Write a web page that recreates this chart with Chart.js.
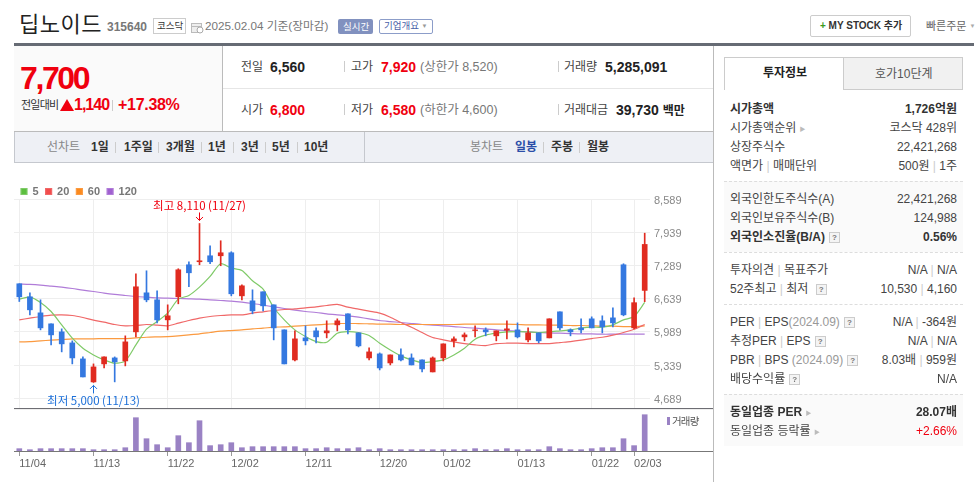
<!DOCTYPE html>
<html lang="ko">
<head>
<meta charset="utf-8">
<title>딥노이드 315640</title>
<script src="https://cdn.jsdelivr.net/npm/chart.js@4"></script>
<style>
    html, body { margin: 0; padding: 0; background: #fff; overflow: hidden; }
    body { width: 980px; height: 482px; position: relative; font-family: "Liberation Sans", "Noto Sans CJK KR", sans-serif; font-size: 12px; color: #444; }
    .t { position: absolute; white-space: nowrap; transform: translateY(-50%); line-height: 1; }
    .r { transform: translate(-100%, -50%); }
    .box { position: absolute; box-sizing: border-box; }
    .b { font-weight: bold; }
    .red { color: #f0000f; }
    .sep { position: absolute; width: 1px; height: 11px; background: #ccc; }
    .q { display: inline-block; width: 9px; height: 9px; line-height: 9px; border: 1px solid #ccc; background: #f4f4f4; color: #777; font-size: 8px; text-align: center; margin-left: 4px; font-weight: bold; vertical-align: 1px; }
    .dash { position: absolute; left: 724px; width: 239px; border-top: 1px dashed #ddd; }
    #priceWrap { position: absolute; left: 0; top: 179px; width: 714px; height: 229px; }
    #volumeWrap { position: absolute; left: 0; top: 408px; width: 714px; height: 70px; }
</style>
</head>
<body>

<!-- header -->
<div class="t" style="left:19px;top:25px;font-size:22px;letter-spacing:0.5px;color:#222">딥노이드</div>
<div class="t b" style="left:107px;top:27px;color:#777">315640</div>
<div class="box" style="left:153px;top:18px;width:33px;height:16px;border:1px solid #ccc"></div>
<div class="t" style="left:157px;top:26px;font-size:9.5px;color:#333">코스닥</div>
<svg class="box" style="left:191px;top:22px" width="13" height="12"><rect x="0.5" y="1.5" width="10" height="9" fill="#eee" stroke="#bbb"/><path d="M1 4.5h9" stroke="#bbb"/><circle cx="9" cy="8" r="3" fill="#fff" stroke="#aaa"/></svg>
<div class="t" style="left:205px;top:26px;font-size:11.7px;color:#777">2025.02.04 기준(장마감)</div>
<div class="box" style="left:338px;top:19px;width:35px;height:15px;background:#8191bf;border-radius:2px"></div>
<div class="t" style="left:343px;top:26.5px;font-size:9.5px;color:#fff">실시간</div>
<div class="box" style="left:379px;top:19px;width:54px;height:15px;border:1px solid #8c9dc9;border-radius:2px"></div>
<div class="t" style="left:384px;top:26px;font-size:9.5px;color:#4a5fa8">기업개요 <span style="font-size:6px;color:#999;vertical-align:1px">▼</span></div>
<div class="box" style="left:810px;top:15px;width:101px;height:22px;border:1px solid #ccc;border-radius:2px"></div>
<div class="t b" style="left:820px;top:26px;font-size:10px;color:#333"><span style="color:#3c9a1c">+</span> MY STOCK 추가</div>
<div class="t" style="left:926px;top:26px;font-size:11px;color:#666">빠른주문 <span style="font-size:6px;color:#aaa;vertical-align:2px">▼</span></div>
<div class="box" style="left:14px;top:43px;width:960px;height:3px;background:#666b74"></div>

<!-- quote summary -->
<div class="box" style="left:14px;top:46px;width:209px;height:85px;background:#fafafa;border-right:1px solid #bbb"></div>
<div class="box" style="left:14px;top:131px;width:699px;height:1px;background:#bbb"></div>
<div class="box" style="left:223px;top:88px;width:490px;height:1px;background:#e6e6e6"></div>
<div class="t b red" style="left:20px;top:78px;font-size:32px;letter-spacing:-2.4px">7,700</div>
<div class="t" style="left:21px;top:105px;font-size:11px;color:#333;letter-spacing:-0.8px">전일대비</div>
<svg class="box" style="left:60px;top:99px" width="14" height="13"><polygon points="7,0 14,12 0,12" fill="#f0000f"/></svg>
<div class="t b red" style="left:74px;top:105px;font-size:16px;letter-spacing:-1px">1,140</div>
<div class="sep" style="left:112px;top:100px"></div>
<div class="t b red" style="left:118px;top:105px;font-size:16px;letter-spacing:-0.3px">+17.38%</div>

<div class="t" style="left:241px;top:67px;font-size:12px;color:#444">전일</div>
<div class="t b" style="left:270px;top:67px;font-size:14px;color:#222">6,560</div>
<div class="sep" style="left:344px;top:61px"></div>
<div class="t" style="left:351px;top:67px;font-size:12px;color:#444">고가</div>
<div class="t b red" style="left:381px;top:67px;font-size:14px">7,920</div>
<div class="t" style="left:420px;top:67px;font-size:12.5px;color:#777">(상한가 8,520)</div>
<div class="sep" style="left:558px;top:61px"></div>
<div class="t" style="left:564px;top:67px;font-size:12px;color:#444">거래량</div>
<div class="t b" style="left:605px;top:67px;font-size:14px;color:#222">5,285,091</div>

<div class="t" style="left:241px;top:110px;font-size:12px;color:#444">시가</div>
<div class="t b red" style="left:270px;top:110px;font-size:14px">6,800</div>
<div class="sep" style="left:344px;top:104px"></div>
<div class="t" style="left:351px;top:110px;font-size:12px;color:#444">저가</div>
<div class="t b red" style="left:381px;top:110px;font-size:14px">6,580</div>
<div class="t" style="left:420px;top:110px;font-size:12.5px;color:#777">(하한가 4,600)</div>
<div class="sep" style="left:558px;top:104px"></div>
<div class="t" style="left:564px;top:110px;font-size:12px;color:#444">거래대금</div>
<div class="t b" style="left:616px;top:110px;font-size:14px;color:#222">39,730 <span style="font-size:12px">백만</span></div>

<!-- period bar -->
<div class="box" style="left:14px;top:132px;width:699px;height:31px;background:#eef0f5;border-left:1px solid #c5c8ce;border-bottom:1px solid #c5c8ce"></div>
<div class="box" style="left:364px;top:132px;width:1px;height:30px;background:#c5c8ce"></div>
<div class="t" style="left:47px;top:147px;color:#888">선차트</div>
<div class="t b" style="left:91px;top:147px;color:#333">1일</div><div class="sep" style="left:115px;top:142px"></div>
<div class="t b" style="left:124px;top:147px;color:#333">1주일</div><div class="sep" style="left:158px;top:142px"></div>
<div class="t b" style="left:166px;top:147px;color:#333">3개월</div><div class="sep" style="left:201px;top:142px"></div>
<div class="t b" style="left:208px;top:147px;color:#333">1년</div><div class="sep" style="left:233px;top:142px"></div>
<div class="t b" style="left:241px;top:147px;color:#333">3년</div><div class="sep" style="left:265px;top:142px"></div>
<div class="t b" style="left:272px;top:147px;color:#333">5년</div><div class="sep" style="left:297px;top:142px"></div>
<div class="t b" style="left:304px;top:147px;color:#333">10년</div>
<div class="t" style="left:470px;top:147px;color:#888">봉차트</div>
<div class="t b" style="left:515px;top:147px;color:#2b4ea8">일봉</div><div class="sep" style="left:543px;top:142px"></div>
<div class="t b" style="left:551px;top:147px;color:#333">주봉</div><div class="sep" style="left:579px;top:142px"></div>
<div class="t b" style="left:587px;top:147px;color:#333">월봉</div>

<!-- charts -->
<div id="priceWrap"><canvas id="priceChart"></canvas></div>
<div id="volumeWrap"><canvas id="volumeChart"></canvas></div>
<div class="box" style="left:14px;top:408px;width:699px;height:1px;background:#6d6d73"></div>
<div class="box" style="left:14px;top:409px;width:699px;height:1px;background:#eee"></div>
<div class="box" style="left:14px;top:451px;width:699px;height:1px;background:#777"></div>
<div class="box" style="left:667px;top:417px;width:3px;height:8px;background:#9a82c4"></div>
<div class="t" style="left:672px;top:421px;font-size:10.5px;color:#555;letter-spacing:-0.8px">거래량</div>

<!-- side panel -->
<div class="box" style="left:713px;top:46px;width:1px;height:436px;background:#bbb"></div>
<div class="box" style="left:724px;top:57px;width:120px;height:33px;border:1px solid #ccc;border-bottom:none;background:#fff"></div>
<div class="box" style="left:843px;top:57px;width:120px;height:33px;border:1px solid #ccc;background:#f1f1f1"></div>
<div class="t b" style="left:763px;top:73px;color:#222">투자정보</div>
<div class="t" style="left:875px;top:74px;color:#555">호가10단계</div>

<div class="box" style="left:724px;top:181px;width:239px;height:71px;background:#fafafa"></div>
<div class="box" style="left:724px;top:394px;width:239px;height:52px;background:#fafafa"></div>
<div class="dash" style="top:181px"></div>
<div class="dash" style="top:252px"></div>
<div class="dash" style="top:304px"></div>
<div class="dash" style="top:394px"></div>

<div class="t b" style="left:730px;top:109px;color:#333">시가총액</div>
<div class="t r b" style="left:957px;top:109px;color:#333">1,726억원</div>
<div class="t" style="left:730px;top:128px">시가총액순위 <span style="font-size:6px;color:#bbb;vertical-align:1px">▶</span></div>
<div class="t r" style="left:957px;top:128px">코스닥 428위</div>
<div class="t" style="left:730px;top:147px">상장주식수</div>
<div class="t r" style="left:957px;top:147px">22,421,268</div>
<div class="t" style="left:730px;top:166px">액면가 <span style="color:#ccc">|</span> 매매단위</div>
<div class="t r" style="left:957px;top:166px">500원 <span style="color:#ccc">|</span> 1주</div>

<div class="t" style="left:730px;top:199px">외국인한도주식수(A)</div>
<div class="t r" style="left:957px;top:199px">22,421,268</div>
<div class="t" style="left:730px;top:218px">외국인보유주식수(B)</div>
<div class="t r" style="left:957px;top:218px">124,988</div>
<div class="t b" style="left:730px;top:237px;color:#333">외국인소진율(B/A)<span class="q">?</span></div>
<div class="t r b" style="left:957px;top:237px;color:#333">0.56%</div>

<div class="t" style="left:730px;top:270px">투자의견 <span style="color:#ccc">|</span> 목표주가</div>
<div class="t r" style="left:957px;top:270px">N/A <span style="color:#ccc">|</span> N/A</div>
<div class="t" style="left:730px;top:289px">52주최고 <span style="color:#ccc">|</span> 최저 <span class="q">?</span></div>
<div class="t r" style="left:957px;top:289px">10,530 <span style="color:#ccc">|</span> 4,160</div>

<div class="t" style="left:730px;top:322px">PER <span style="color:#ccc">|</span> EPS<span style="color:#999">(2024.09)</span><span class="q">?</span></div>
<div class="t r" style="left:957px;top:322px">N/A <span style="color:#ccc">|</span> -364원</div>
<div class="t" style="left:730px;top:341px">추정PER <span style="color:#ccc">|</span> EPS<span class="q">?</span></div>
<div class="t r" style="left:957px;top:341px">N/A <span style="color:#ccc">|</span> N/A</div>
<div class="t" style="left:730px;top:360px">PBR <span style="color:#ccc">|</span> BPS <span style="color:#999">(2024.09)</span><span class="q">?</span></div>
<div class="t r" style="left:957px;top:360px">8.03배 <span style="color:#ccc">|</span> 959원</div>
<div class="t" style="left:730px;top:379px">배당수익률<span class="q">?</span></div>
<div class="t r" style="left:957px;top:379px">N/A</div>

<div class="t b" style="left:730px;top:412px;color:#333">동일업종 PER <span style="font-size:6px;color:#bbb;vertical-align:1px">▶</span></div>
<div class="t r b" style="left:957px;top:412px;color:#333">28.07배</div>
<div class="t" style="left:730px;top:431px">동일업종 등락률 <span style="font-size:6px;color:#bbb;vertical-align:1px">▶</span></div>
<div class="t r red" style="left:957px;top:431px">+2.66%</div>

<script>
// ---- data ----
const dates = [
    '11/04', '11/05', '11/06', '11/07', '11/08', '11/11', '11/12', '11/13', '11/14', '11/15',
    '11/18', '11/19', '11/20', '11/21', '11/22', '11/25', '11/26', '11/27', '11/28', '11/29',
    '12/02', '12/03', '12/04', '12/05', '12/06', '12/09', '12/10', '12/11', '12/12', '12/13',
    '12/16', '12/17', '12/18', '12/19', '12/20', '12/23', '12/24', '12/26', '12/27', '12/30',
    '01/02', '01/03', '01/06', '01/07', '01/08', '01/09', '01/10', '01/13', '01/14', '01/15',
    '01/16', '01/17', '01/20', '01/21', '01/22', '01/23', '01/24', '01/31', '02/03', '02/04'
];
const dateTicks = ['11/04', '11/13', '11/22', '12/02', '12/11', '12/20', '01/02', '01/13', '01/22', '02/03'];
const priceTicks = [4689, 5339, 5989, 6639, 7289, 7939, 8589];

const opens = [
    6930, 6675, 6361, 6146, 5989, 5773, 5460, 5009, 5362, 5479,
    5420, 5989, 6753, 6616, 6224, 6675, 7302, 7361, 7478, 7478,
    7537, 6694, 6596, 6773, 6518, 6028, 5440, 5871, 6009, 5969,
    6126, 6342, 5969, 5479, 5558, 5381, 5538, 5479, 5440, 5205,
    5479, 5813, 5891, 6015, 6028, 5911, 6022, 6028, 5832, 5969,
    5871, 6381, 6028, 6067, 6244, 6205, 6263, 7302, 6067, 6800
];
const highs = [
    6930, 6753, 6616, 6146, 6048, 5813, 5499, 5362, 5499, 5499,
    5911, 7126, 7184, 6792, 6518, 7224, 7361, 8110, 7674, 7772,
    7557, 6910, 6812, 6773, 6518, 6028, 6009, 6107, 6067, 6205,
    6244, 6342, 5969, 5675, 5577, 5538, 5656, 5558, 5440, 5499,
    5754, 5891, 5969, 6107, 6067, 6009, 6205, 6165, 6067, 5969,
    6244, 6381, 6048, 6244, 6283, 6303, 6459, 7322, 6655, 7920
];
const lows = [
    6583, 6322, 6028, 5734, 5597, 5362, 5107, 5000, 5283, 5010,
    5323, 5891, 6577, 6165, 6028, 6538, 6871, 7302, 7322, 7283,
    6694, 6616, 6342, 6400, 5832, 5362, 5420, 5734, 5773, 5871,
    6009, 5950, 5695, 5440, 5244, 5342, 5420, 5342, 5205, 5205,
    5420, 5695, 5813, 5891, 5911, 5813, 5852, 5871, 5793, 5773,
    5871, 6028, 5911, 5969, 6067, 5969, 6087, 6303, 6048, 6580
];
const closes = [
    6675, 6420, 6067, 5930, 5754, 5479, 5107, 5303, 5499, 5401,
    5793, 6871, 6616, 6224, 6303, 7204, 7145, 7380, 7361, 7537,
    6734, 6890, 6400, 6498, 6067, 5362, 5852, 5813, 5891, 6009,
    6205, 6028, 5715, 5597, 5283, 5538, 5440, 5342, 5264, 5479,
    5754, 5852, 5930, 6028, 5989, 6009, 6048, 5891, 5969, 5813,
    6244, 6067, 5989, 6028, 6067, 6087, 6165, 6322, 6560, 7700
];
const volumes = [
    340000, 190000, 340000, 340000, 340000, 340000, 340000, 190000, 190000, 190000,
    480000, 4850000, 1790000, 920000, 480000, 2230000, 1210000, 4410000, 780000, 920000,
    1210000, 480000, 630000, 630000, 630000, 630000, 630000, 340000, 340000, 480000,
    340000, 340000, 480000, 190000, 340000, 190000, 190000, 190000, 190000, 190000,
    190000, 190000, 190000, 340000, 190000, 190000, 340000, 190000, 190000, 190000,
    630000, 340000, 190000, 190000, 340000, 480000, 480000, 1790000, 780000, 5285091
];
const ma5 = [
    6629, 6668, 6564, 6387, 6126, 5865, 5669, 5538, 5440, 5375,
    5420, 5734, 6041, 6191, 6355, 6629, 6701, 6864, 7073, 7322,
    7237, 7191, 6988, 6825, 6466, 6224, 6028, 5897, 5799, 5786,
    5963, 5995, 5976, 5917, 5767, 5636, 5519, 5440, 5388, 5407,
    5440, 5538, 5669, 5845, 5924, 5963, 5989, 5995, 5989, 5976,
    5989, 6009, 6028, 6061, 6080, 6080, 6126, 6224, 6290, 6564
];
const ma20 = [
    6224, 6257, 6290, 6316, 6322, 6309, 6270, 6218, 6178, 6133,
    6107, 6113, 6133, 6120, 6107, 6159, 6211, 6257, 6290, 6309,
    6322, 6322, 6355, 6381, 6407, 6427, 6440, 6459, 6479, 6505,
    6525, 6472, 6433, 6394, 6355, 6276, 6172, 6080, 5976, 5878,
    5832, 5793, 5760, 5734, 5721, 5760, 5767, 5767, 5760, 5760,
    5760, 5780, 5799, 5826, 5858, 5884, 5924, 5976, 6041, 6133
];
const ma60 = [
    5793, 5799, 5813, 5826, 5839, 5852, 5852, 5852, 5858, 5858,
    5858, 5871, 5884, 5891, 5897, 5911, 5930, 5950, 5976, 6002,
    6015, 6028, 6048, 6061, 6080, 6087, 6100, 6113, 6126, 6139,
    6152, 6152, 6152, 6146, 6139, 6139, 6133, 6133, 6133, 6133,
    6133, 6133, 6139, 6139, 6139, 6139, 6139, 6133, 6126, 6126,
    6120, 6120, 6113, 6113, 6107, 6100, 6100, 6093, 6093, 6107
];
const ma120 = [
    6923, 6917, 6904, 6884, 6864, 6838, 6806, 6779, 6747, 6721,
    6701, 6681, 6668, 6655, 6649, 6642, 6636, 6629, 6616, 6603,
    6590, 6570, 6544, 6512, 6479, 6446, 6414, 6387, 6368, 6342,
    6322, 6303, 6276, 6244, 6211, 6191, 6172, 6152, 6133, 6120,
    6107, 6093, 6074, 6061, 6048, 6028, 6015, 6002, 5989, 5976,
    5969, 5963, 5956, 5950, 5950, 5943, 5943, 5943, 5943, 5943
];
const highMark = { date: '11/27', value: 8110, text: '최고 8,110 (11/27)' };
const lowMark = { date: '11/13', value: 5000, text: '최저 5,000 (11/13)' };

// ---- colours and shared bits ----
const UP = '#e02b20';
const DOWN = '#3478e0';
const candleColors = closes.map((c, i) => (c >= opens[i] ? UP : DOWN));
const LABEL_FONT = '"Liberation Sans", "Noto Sans CJK KR", sans-serif';

function keepDateTicks(scale) {
    scale.ticks = scale.ticks.filter(t => dateTicks.includes(dates[t.value]));
}

function maLine(label, values, lineColor, boxColor) {
    return {
        type: 'line', label, data: values, order: 5,
        borderColor: lineColor, backgroundColor: boxColor,
        borderWidth: 1.2, pointRadius: 0, tension: 0.25
    };
}

// legend takes less height than Chart.js asks for, the plot starts right below it
const tightLegend = {
    id: 'tightLegend',
    beforeInit(chart) {
        const fit = chart.legend.fit;
        chart.legend.fit = function () {
            fit.call(this);
            this.height = 20;
        };
    }
};

// arrows and texts for the period high and low
const markerPlugin = {
    id: 'markers',
    afterDatasetsDraw(chart) {
        const { ctx, scales } = chart;
        const drawMark = (mark, color, up) => {
            const x = scales.x.getPixelForValue(dates.indexOf(mark.date));
            const y = scales.y.getPixelForValue(mark.value);
            const dir = up ? 1 : -1;
            const tip = y + dir * 3;
            ctx.save();
            ctx.strokeStyle = color;
            ctx.fillStyle = color;
            ctx.lineWidth = 1;
            ctx.beginPath();
            ctx.moveTo(x, tip);
            ctx.lineTo(x, tip + dir * 8);
            ctx.moveTo(x - 3.5, tip + dir * 3.5);
            ctx.lineTo(x, tip);
            ctx.lineTo(x + 3.5, tip + dir * 3.5);
            ctx.stroke();
            ctx.font = '11.5px "Noto Sans CJK KR", sans-serif';
            ctx.textAlign = 'center';
            ctx.textBaseline = 'middle';
            ctx.fillText(mark.text, x, tip + dir * 15);
            ctx.restore();
        };
        drawMark(highMark, '#f0000f', false);
        drawMark(lowMark, '#1c6fd8', true);
    }
};

new Chart(document.getElementById('priceChart'), {
    type: 'bar',
    data: {
        labels: dates,
        datasets: [
            maLine('5', ma5, '#7fca68', '#5cbf3f'),
            maLine('20', ma20, '#f06868', '#f24c4c'),
            maLine('60', ma60, '#fb9a40', '#fb8a1e'),
            maLine('120', ma120, '#b07cd8', '#a060d0'),
            {
                label: 'wick', order: 2, grouped: false, barThickness: 1,
                data: lows.map((l, i) => [l, highs[i]]),
                backgroundColor: candleColors
            },
            {
                label: 'body', order: 1, grouped: false, barThickness: 5,
                data: opens.map((o, i) => [o, closes[i]]),
                backgroundColor: candleColors
            }
        ]
    },
    options: {
        responsive: true,
        maintainAspectRatio: false,
        animation: false,
        layout: { padding: { left: 14, top: 0, bottom: 0 } },
        plugins: {
            tooltip: { enabled: false },
            legend: {
                position: 'top',
                align: 'start',
                labels: {
                    boxWidth: 6, boxHeight: 6, padding: 7,
                    color: '#777',
                    font: { family: LABEL_FONT, size: 11, weight: 'bold' },
                    filter: item => !['wick', 'body'].includes(item.text)
                }
            }
        },
        scales: {
            x: {
                offset: true,
                afterBuildTicks: keepDateTicks,
                afterFit: scale => { scale.height = 0; scale.paddingLeft = 0; scale.paddingRight = 0; },
                grid: { offset: false, color: '#eeeeee', drawTicks: false },
                border: { display: false },
                ticks: { display: false, autoSkip: false, maxRotation: 0 }
            },
            y: {
                position: 'right',
                min: 4499,
                max: 8589,
                afterBuildTicks: scale => {
                    scale.ticks = priceTicks.map(value => ({ value }));
                },
                afterFit: scale => {
                    scale.width = 64;
                    scale.paddingTop = 0;
                    scale.paddingBottom = 0;
                },
                grid: { color: '#eeeeee', drawTicks: false },
                border: { display: false },
                ticks: {
                    padding: 4,
                    labelOffset: 1.5,
                    color: '#888',
                    font: { family: LABEL_FONT, size: 11 },
                    callback: v => v.toLocaleString('en-US')
                }
            }
        }
    },
    plugins: [tightLegend, markerPlugin]
});

new Chart(document.getElementById('volumeChart'), {
    type: 'bar',
    data: {
        labels: dates,
        datasets: [{
            label: '거래량',
            data: volumes,
            backgroundColor: '#9a82c4',
            barThickness: 5
        }]
    },
    options: {
        responsive: true,
        maintainAspectRatio: false,
        animation: false,
        layout: { padding: { left: 14, right: 64, top: 2 } },
        plugins: { legend: { display: false }, tooltip: { enabled: false } },
        scales: {
            x: {
                offset: true,
                afterBuildTicks: keepDateTicks,
                afterFit: scale => { scale.height = 27; },
                grid: { offset: false, drawOnChartArea: false, tickColor: '#999', tickLength: 5 },
                border: { display: false },
                ticks: {
                    autoSkip: false,
                    maxRotation: 0,
                    align: 'start',
                    padding: 1,
                    color: '#666',
                    font: { family: LABEL_FONT, size: 11 }
                }
            },
            y: { display: false, min: 0, max: 5970000 }
        }
    }
});
</script>
</body>
</html>
